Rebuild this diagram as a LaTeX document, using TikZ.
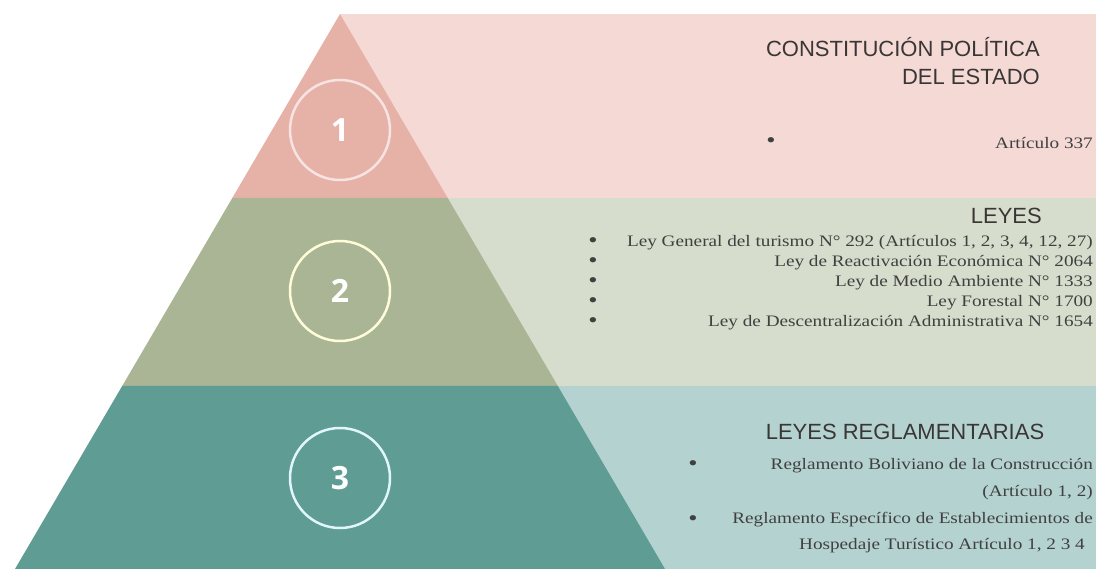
\documentclass[tikz,border=0pt]{standalone}
\usepackage{fontspec}
\setmainfont[FakeStretch=1.2]{Liberation Serif}
\setsansfont{Liberation Sans}
\newfontfamily\numfont{Open Sans}
\definecolor{pinkdark}{HTML}{E6B2A8}
\definecolor{pinklight}{HTML}{F4D9D5}
\definecolor{greendark}{HTML}{AAB595}
\definecolor{greenlight}{HTML}{D6DDCC}
\definecolor{tealdark}{HTML}{5E9C94}
\definecolor{teallight}{HTML}{B4D2D0}
\definecolor{headgray}{HTML}{3A3636}
\definecolor{bodygray}{HTML}{404040}
\begin{document}
\begin{tikzpicture}[x=1pt,y=-1pt,
	title/.style={font=\sffamily\fontsize{22}{28}\selectfont,text=headgray,align=right,inner sep=0pt},
	item/.style={font=\fontsize{16}{20}\selectfont,text=bodygray,anchor=east,inner sep=0pt},
	dot/.style={font=\fontsize{22}{20}\selectfont,text=bodygray,inner sep=0pt},
	ring/.style={circle,draw,line width=2.5pt,minimum size=100pt,text=white,
		font=\numfont\bfseries\fontsize{32}{32}\selectfont}]
	\useasboundingbox (0,0) rectangle (1096,569);
	\clip (0,0) rectangle (1096,569);
	\fill[white] (0,0) rectangle (1096,569);
	% bands behind the pyramid
	\fill[pinklight] (340,14) rectangle (1096,198);
	\fill[greenlight] (340,198) rectangle (1096,386);
	\fill[teallight] (340,386) rectangle (1096,569);
	% pyramid
	\fill[pinkdark] (340,14) -- (447.7,198) -- (232.3,198) -- cycle;
	\fill[greendark] (232.3,198) -- (447.7,198) -- (557.8,386) -- (122.2,386) -- cycle;
	\fill[tealdark] (122.2,386) -- (557.8,386) -- (665,569) -- (15,569) -- cycle;
	\node[ring,draw=pinklight!70!white] (n1) at (340,130) {1};
	\node[ring,draw=yellow!15!white] (n2) at (340,291) {2};
	\node[ring,draw=cyan!12!white] (n3) at (340,478) {3};
	% level 1
	\node[title,anchor=east] (t1) at (1040,61) {CONSTITUCIÓN POLÍTICA\\DEL ESTADO};
	\node[dot] (b1) at (771,143) {•};
	\node[item] (a1) at (1093,143) {Artículo 337};
	% level 2
	\node[title,anchor=east] (t2) at (1042,216) {LEYES};
	\foreach \txt [count=\i] in {{Ley General del turismo N° 292 (Artículos 1, 2, 3, 4, 12, 27)},
		{Ley de Reactivación Económica N° 2064},{Ley de Medio Ambiente N° 1333},
		{Ley Forestal N° 1700},{Ley de Descentralización Administrativa N° 1654}}{
		\node[dot] (c\i) at (593,223+20*\i) {•};
		\node[item] (l\i) at (1093,223+20*\i) {\txt};
	}
	% level 3
	\node[title] (t3) at (905,432) {LEYES REGLAMENTARIAS};
	\node[dot] (d1) at (693,466) {•};
	\node[dot] (d2) at (693,521) {•};
	\node[item] (r1) at (1093,466) {Reglamento Boliviano de la Construcción};
	\node[item] (r2) at (1093,493) {(Artículo 1, 2)};
	\node[item] (r3) at (1093,520) {Reglamento Específico de Establecimientos de};
	\node[item] (r4) at (1085,546) {Hospedaje Turístico Artículo 1, 2 3 4};
\end{tikzpicture}
\end{document}
